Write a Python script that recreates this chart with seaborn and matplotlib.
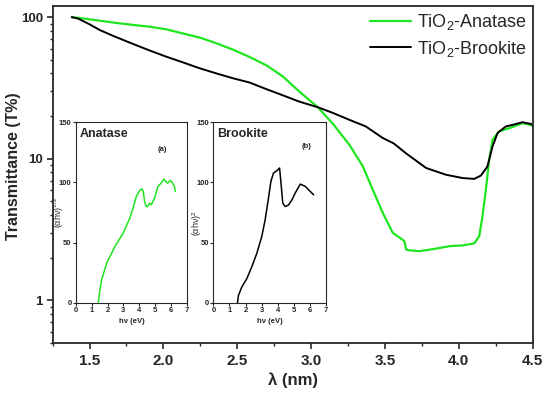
import numpy as np
import pandas as pd
import matplotlib
matplotlib.use('Agg')
import matplotlib.pyplot as plt
from matplotlib.ticker import MultipleLocator, LogLocator, NullFormatter, FixedLocator
import seaborn as sns

# transmittance curves
anatase_x = [1.38, 1.42, 1.55, 1.68, 1.80, 1.91, 2.02, 2.13, 2.25, 2.36, 2.47, 2.58, 2.70, 2.81,
             2.92, 3.045, 3.15, 3.26, 3.35, 3.417, 3.485, 3.552, 3.631, 3.643, 3.653, 3.73,
             3.83, 3.935, 4.025, 4.104, 4.138, 4.16, 4.183, 4.205, 4.228, 4.273, 4.34, 4.43, 4.487, 4.5]
anatase_y = [100, 99, 95, 91, 88, 85.5, 82, 76.8, 71.5, 65.3, 59, 52.5, 45.5, 38,
             29.8, 23.1, 17.5, 12.5, 8.83, 6.05, 4.14, 3.0, 2.62, 2.29, 2.26, 2.22,
             2.3, 2.41, 2.44, 2.52, 2.84, 3.92, 6.05, 9.8, 13.6, 15.6, 16.4, 17.8, 17.3, 17.0]

brookite_x = [1.38, 1.424, 1.50, 1.57, 1.67, 1.773, 1.90, 2.021, 2.13, 2.246, 2.36, 2.471, 2.584,
              2.697, 2.81, 2.92, 3.045, 3.15, 3.26, 3.37, 3.485, 3.56, 3.643, 3.778, 3.913,
              4.025, 4.104, 4.149, 4.193, 4.228, 4.262, 4.318, 4.37, 4.43, 4.487, 4.5]
brookite_y = [100, 97.6, 89, 81, 73, 66, 58.5, 52.5, 48, 43.5, 40, 37, 34.5,
              31, 28, 25.3, 23.1, 21, 18.8, 16.9, 14, 12.8, 10.9, 8.6, 7.7,
              7.3, 7.2, 7.6, 8.8, 12.2, 15.2, 16.9, 17.4, 18.1, 17.6, 17.3]

# Tauc plots (insets)
tauc_a_x = [1.42, 1.48, 1.62, 1.94, 2.46, 2.98, 3.4, 3.6, 3.81, 4.02, 4.17, 4.25, 4.33, 4.44,
            4.54, 4.65, 4.75, 4.96, 5.17, 5.38, 5.54, 5.69, 5.79, 5.96, 6.1, 6.21, 6.27]
tauc_a_y = [0, 7.8, 18.9, 32.8, 46.7, 57.8, 70.3, 78.6, 88.3, 93.3, 94.7, 92.5, 84.2, 80,
            80, 82.8, 81.4, 86.9, 96.7, 99.4, 102.8, 100.6, 99.4, 101.7, 99.4, 96.7, 92.5]

tauc_b_x = [1.50, 1.56, 1.77, 2.08, 2.39, 2.70, 3.01, 3.22, 3.43, 3.58, 3.74, 3.95, 4.12, 4.20,
            4.32, 4.47, 4.68, 4.89, 5.09, 5.41, 5.72, 6.03, 6.24]
tauc_b_y = [0, 6.1, 13.1, 20, 29.8, 40.9, 54.9, 68.8, 86.9, 100.8, 107.8, 109.7, 112, 100.8,
            82.7, 79.9, 81.3, 85.5, 91.1, 98.6, 96.7, 92.5, 89.7]

green = '#1ee61e'

sns.set_style('ticks')
plt.rcParams['font.family'] = ['Liberation Sans', 'DejaVu Sans']
plt.rcParams['mathtext.default'] = 'regular'

fig = plt.figure(figsize=(5.5, 3.95), dpi=100)
ax = fig.add_axes([0.0956, 0.132, 0.873, 0.853])

sns.lineplot(x=anatase_x, y=anatase_y, ax=ax, color=green, lw=1.6, sort=False, estimator=None,
             label='TiO$_2$-Anatase')
sns.lineplot(x=brookite_x, y=brookite_y, ax=ax, color='black', lw=1.4, sort=False, estimator=None,
             label='TiO$_2$-Brookite')

ax.set_yscale('log')
ax.set_xlim(1.25, 4.5)
ax.set_ylim(0.5, 120)
ax.xaxis.set_major_locator(MultipleLocator(0.5))
ax.xaxis.set_minor_locator(MultipleLocator(0.25))
ax.yaxis.set_major_locator(FixedLocator([1, 10, 100]))
ax.yaxis.set_minor_locator(LogLocator(base=10, subs=np.arange(2, 10)))
ax.yaxis.set_minor_formatter(NullFormatter())
ax.set_yticklabels(['1', '10', '100'])
ax.xaxis.set_major_formatter(matplotlib.ticker.FormatStrFormatter('%.1f'))
ax.tick_params(which='major', direction='out', length=4, width=1.2)
ax.tick_params(which='minor', direction='out', length=2.5, width=1)
ax.tick_params(axis='x', labelsize=11, pad=4)
ax.tick_params(axis='y', labelsize=9.5, pad=3)
for lbl in ax.get_xticklabels() + ax.get_yticklabels():
    lbl.set_fontweight('bold')
for s in ax.spines.values():
    s.set_linewidth(1.3)
ax.set_xlabel('λ (nm)', fontsize=12, fontweight='bold', labelpad=3)
ax.set_ylabel('Transmittance (T%)', fontsize=11.5, fontweight='bold')
ax.yaxis.set_label_coords(-0.066, 0.524)
ax.legend(loc='upper right', frameon=False, fontsize=13, handlelength=2.3, handletextpad=0.3,
          labelspacing=0.35, borderaxespad=0.15, borderpad=0.2)


def inset(rect, xs, ys, color, name, tag, ylab, ylab_y):
    a = fig.add_axes(rect)
    sns.lineplot(x=xs, y=ys, ax=a, color=color, lw=1.1, sort=False, estimator=None)
    a.set_xlim(0, 7)
    a.set_ylim(0, 150)
    a.set_xticks(range(0, 8))
    a.set_yticks([0, 50, 100, 150])
    a.tick_params(direction='out', length=2, width=0.8, labelsize=5.5, pad=1)
    for lbl in a.get_xticklabels() + a.get_yticklabels():
        lbl.set_fontweight('bold')
    for s in a.spines.values():
        s.set_linewidth(0.8)
    a.text(0.03, 0.97, name, transform=a.transAxes, fontsize=9, fontweight='bold',
           va='top', ha='left')
    a.text(tag[0], tag[1], tag[2], transform=a.transAxes, fontsize=5.5, fontweight='bold',
           va='center', ha='center')
    a.set_xlabel('hν (eV)', fontsize=5.5, fontweight='bold', labelpad=3)
    a.set_ylabel(ylab, fontsize=6.5, labelpad=1)
    a.yaxis.set_label_coords(-0.085, ylab_y)
    return a


inset([0.138, 0.2337, 0.2018, 0.4567], tauc_a_x, tauc_a_y, green, 'Anatase',
      (0.78, 0.85, '(a)'), '(αhν)$^{1/2}$', 0.5)
inset([0.388, 0.2337, 0.2044, 0.4567], tauc_b_x, tauc_b_y, 'black', 'Brookite',
      (0.83, 0.865, '(b)'), '(αhν)$^{2}$', 0.44)

fig.savefig('out.png', dpi=100)
